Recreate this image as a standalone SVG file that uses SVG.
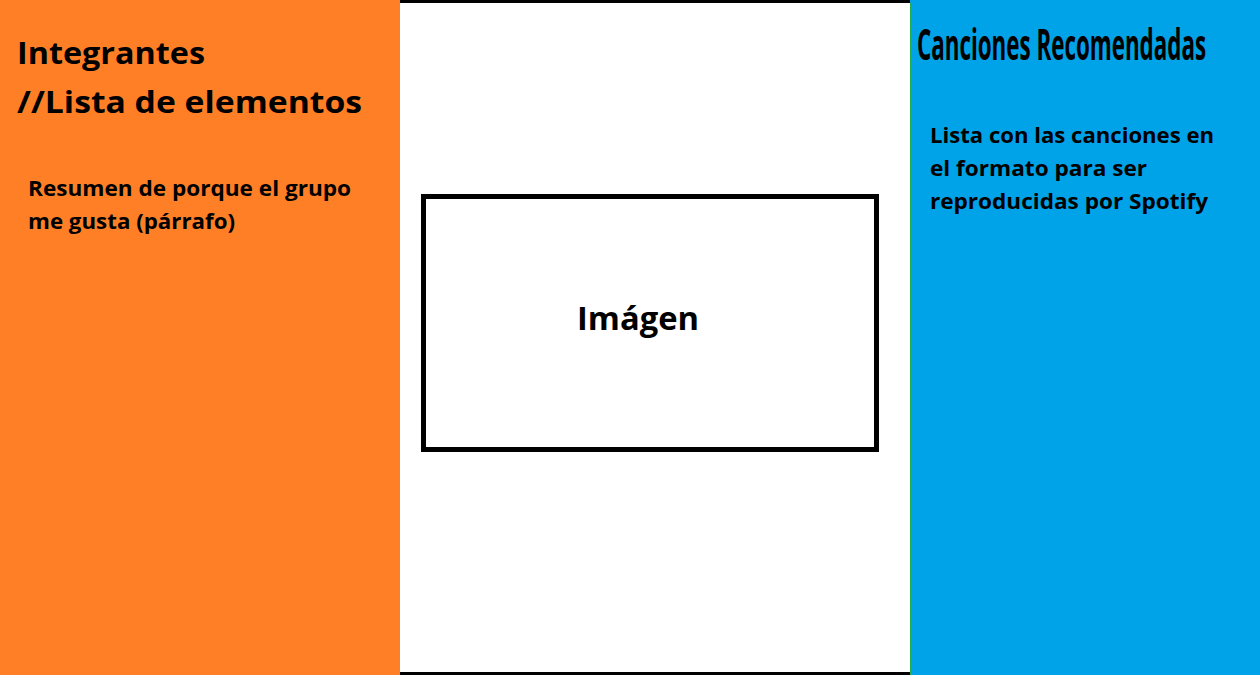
<svg xmlns="http://www.w3.org/2000/svg" width="1260" height="675" viewBox="0 0 1260 675">
<style>
.t{font-family:"Open Sans","Liberation Sans",sans-serif;font-weight:bold;fill:#000}
</style>
<rect x="0" y="0" width="1260" height="675" fill="#fff"/>
<g id="left-panel">
<rect x="0" y="0" width="400" height="675" fill="#ff7f27"/>
<text class="t" x="17" y="64" font-size="31" textLength="188" lengthAdjust="spacingAndGlyphs">Integrantes</text>
<text class="t" x="17" y="113" font-size="31" textLength="345" lengthAdjust="spacingAndGlyphs">//Lista de elementos</text>
<text class="t" x="28" y="196" font-size="21" textLength="323" lengthAdjust="spacingAndGlyphs">Resumen de porque el grupo</text>
<text class="t" x="28" y="229" font-size="21" textLength="207" lengthAdjust="spacingAndGlyphs">me gusta (párrafo)</text>
</g>
<g id="center-panel">
<rect x="400" y="0" width="510" height="3" fill="#000"/>
<rect x="400" y="672" width="510" height="3" fill="#000"/>
</g>
<g id="image-box">
<rect x="423.5" y="196.5" width="453" height="253" fill="#fff" stroke="#000" stroke-width="5"/>
<text class="t" x="577" y="330" font-size="32" textLength="122" lengthAdjust="spacingAndGlyphs">Imágen</text>
</g>
<g id="right-panel">
<rect x="910" y="0" width="350" height="675" fill="#00a2e8"/>
<rect x="910" y="3" width="1.5" height="672" fill="#22b14c"/>
<text class="t" transform="translate(917,60) scale(0.5,1)" x="0" y="0" font-size="43" textLength="578" lengthAdjust="spacingAndGlyphs">Canciones Recomendadas</text>
<text class="t" x="930" y="143" font-size="21" textLength="284" lengthAdjust="spacingAndGlyphs">Lista con las canciones en</text>
<text class="t" x="930" y="176" font-size="21" textLength="217" lengthAdjust="spacingAndGlyphs">el formato para ser</text>
<text class="t" x="930" y="209" font-size="21" textLength="278" lengthAdjust="spacingAndGlyphs">reproducidas por Spotify</text>
</g>
<g id="connectors"/>
</svg>
